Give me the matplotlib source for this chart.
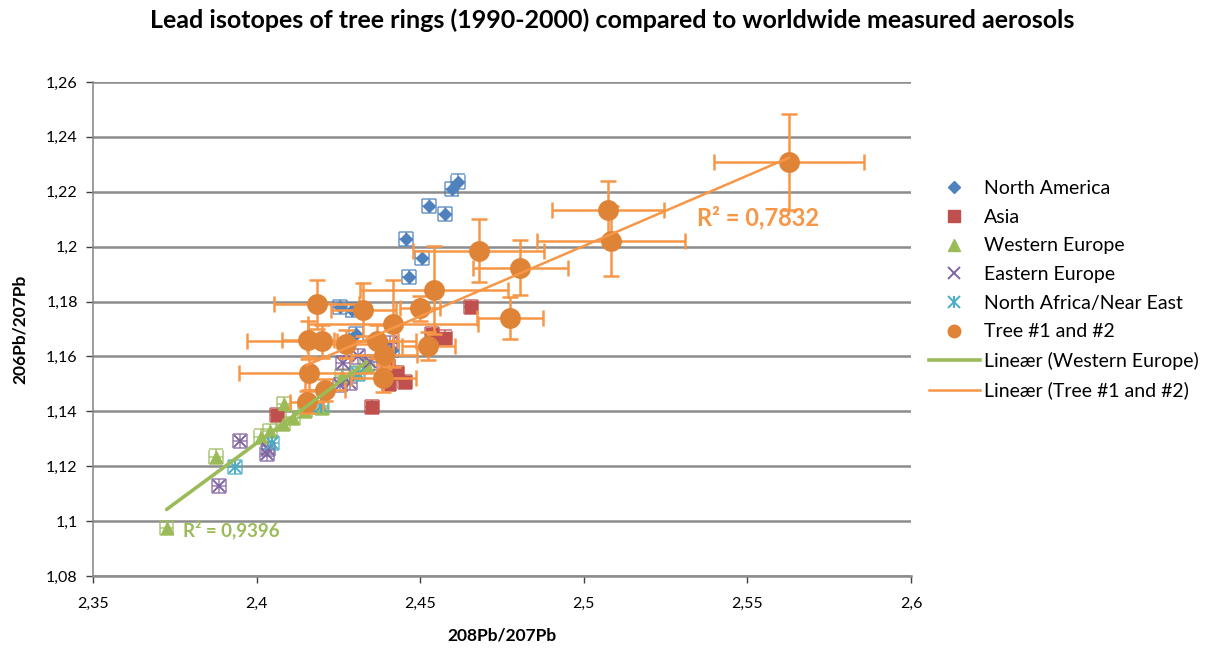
import numpy as np
import matplotlib
matplotlib.use("Agg")
import matplotlib.pyplot as plt
from matplotlib.lines import Line2D
from matplotlib.legend_handler import HandlerTuple
from matplotlib.ticker import FixedLocator, FuncFormatter

plt.rcParams['font.family'] = ['Lato', 'DejaVu Sans']

# ---- data -------------------------------------------------------------
na_x = [2.4616, 2.4596, 2.4527, 2.4576, 2.4456, 2.4505, 2.4466, 2.4255, 2.4293, 2.4303, 2.4414]
na_y = [1.2237, 1.2209, 1.2148, 1.2119, 1.2027, 1.1958, 1.1889, 1.1781, 1.1768, 1.1682, 1.1624]

asia_x = [2.4655, 2.4535, 2.4576, 2.4428, 2.4454, 2.4405, 2.4352, 2.4062, 2.4402]
asia_y = [1.1779, 1.1680, 1.1669, 1.1539, 1.1508, 1.1500, 1.1417, 1.1387, 1.1565]

we_x = [2.3875, 2.3725, 2.4084, 2.4081, 2.4041, 2.4013, 2.4111, 2.4148, 2.4200, 2.4261, 2.4307, 2.4337]
we_y = [1.1235, 1.0974, 1.1427, 1.1354, 1.1328, 1.1308, 1.1376, 1.1401, 1.1412, 1.1529, 1.1540, 1.1565]

ee_x = [2.3886, 2.3949, 2.4036, 2.4031, 2.4265, 2.4311, 2.4255, 2.4285, 2.4347, 2.4408]
ee_y = [1.1127, 1.1292, 1.1263, 1.1246, 1.1576, 1.1600, 1.1496, 1.1502, 1.1578, 1.1648]

naf_x = [2.3934, 2.4046, 2.4197, 2.4311]
naf_y = [1.1198, 1.1284, 1.1421, 1.1536]

tree_x = [2.5627, 2.5074, 2.5083, 2.4679, 2.4806, 2.4774, 2.4542, 2.4499, 2.4418, 2.4326, 2.4184,
          2.4158, 2.4201, 2.4273, 2.4367, 2.4389, 2.4525, 2.4160, 2.4387, 2.4209, 2.4153]
tree_y = [1.2309, 1.2134, 1.2021, 1.1986, 1.1924, 1.1739, 1.1842, 1.1775, 1.1720, 1.1771, 1.1790,
          1.1660, 1.1655, 1.1645, 1.1656, 1.1605, 1.1638, 1.1539, 1.1520, 1.1478, 1.1435]
tree_xerr = [0.023, 0.017, 0.0225, 0.020, 0.0145, 0.010, 0.0225, 0.006, 0.026, 0.010, 0.013,
             0.008, 0.023, 0.012, 0.012, 0.010, 0.008, 0.0215, 0.010, 0.006, 0.005]
tree_yerr = [0.0175, 0.0106, 0.0128, 0.0113, 0.010, 0.0077, 0.016, 0.0045, 0.016, 0.0095, 0.009,
             0.007, 0.006, 0.005, 0.006, 0.005, 0.005, 0.006, 0.005, 0.004, 0.004]

x_ticks = [2.35, 2.4, 2.45, 2.5, 2.55, 2.6]
y_ticks = [1.08, 1.10, 1.12, 1.14, 1.16, 1.18, 1.20, 1.22, 1.24, 1.26]

r2_we_text = "R² = 0,9396"
r2_tree_text = "R² = 0,7832"

# ---- style ------------------------------------------------------------
C_NA = '#4F81BD'
C_ASIA = '#C0504D'
C_WE = '#9BBB59'
C_EE = '#8064A2'
C_NAF = '#4BACC6'
C_TREE = '#DF8336'
C_TREE_ERR = '#F79646'
GRID = '#8C8C8C'

fig = plt.figure(figsize=(12.08, 6.48), dpi=100)
ax = fig.add_axes([93/1208, 1-576/648, (911-93)/1208, (576-82)/648])

# small fixed error bars for the aerosol samples
aer_xerr = 0.0021
aer_yerr = 0.0026
aer_cap = 5


def aerosol(xs, ys, color, marker, ms, mew=1.0, z=3):
    ax.errorbar(xs, ys, xerr=aer_xerr, yerr=aer_yerr, fmt='none', ecolor=color,
                elinewidth=1.2, capsize=aer_cap, capthick=1.2, alpha=0.75, zorder=z)
    ax.plot(xs, ys, linestyle='none', marker=marker, color=color, markersize=ms,
            markeredgewidth=mew, zorder=z + 0.1)


aerosol(na_x, na_y, C_NA, 'D', 6.5)
aerosol(asia_x, asia_y, C_ASIA, 's', 8.5)
aerosol(we_x, we_y, C_WE, '^', 9)
aerosol(ee_x, ee_y, C_EE, 'x', 9, mew=1.4)
aerosol(naf_x, naf_y, C_NAF, 'x', 9, mew=1.4)
ax.plot(naf_x, naf_y, linestyle='none', marker='|', color=C_NAF, markersize=10,
        markeredgewidth=1.4, zorder=3.2)

# tree rings with their uncertainties
ax.errorbar(tree_x, tree_y, xerr=tree_xerr, yerr=tree_yerr, fmt='none', ecolor=C_TREE_ERR,
            elinewidth=1.8, capsize=6, capthick=1.8, zorder=4)
ax.plot(tree_x, tree_y, linestyle='none', marker='o', color=C_TREE, markersize=15,
        markeredgewidth=0, zorder=4.1)

# linear trend lines
we_fit = np.polyfit(we_x, we_y, 1)
we_line_x = np.array([min(we_x), max(we_x)])
ax.plot(we_line_x, np.polyval(we_fit, we_line_x), color=C_WE, linewidth=2.6, zorder=5,
        solid_capstyle='round')

tree_fit = np.polyfit(tree_x, tree_y, 1)
tree_line_x = np.array([min(tree_x), max(tree_x)])
ax.plot(tree_line_x, np.polyval(tree_fit, tree_line_x), color=C_TREE_ERR, linewidth=1.8,
        zorder=5)

ax.text(2.3775, 1.0968, r2_we_text, color=C_WE, fontsize=13.5, fontweight='bold',
        va='center', ha='left', zorder=6)
ax.text(2.5346, 1.2105, r2_tree_text, color=C_TREE_ERR, fontsize=17, fontweight='bold',
        va='center', ha='left', zorder=6)

# ---- axes -------------------------------------------------------------
ax.set_xlim(2.35, 2.6)
ax.set_ylim(1.08, 1.26)
ax.xaxis.set_major_locator(FixedLocator(x_ticks))
ax.yaxis.set_major_locator(FixedLocator(y_ticks))


def comma_fmt(v, _pos):
    s = f"{v:.2f}".rstrip('0').rstrip('.')
    return s.replace('.', ',')


ax.xaxis.set_major_formatter(FuncFormatter(comma_fmt))
ax.yaxis.set_major_formatter(FuncFormatter(comma_fmt))
ax.tick_params(axis='both', labelsize=11.5, colors='#404040', length=5, width=1.0,
               direction='out', labelcolor='black')
ax.tick_params(axis='x', pad=10)
ax.tick_params(axis='y', pad=6)

for side in ['top', 'right']:
    ax.spines[side].set_visible(False)
ax.spines['left'].set_color(GRID)
ax.spines['bottom'].set_color(GRID)
ax.spines['left'].set_linewidth(1.2)
ax.spines['bottom'].set_linewidth(1.8)
ax.grid(axis='y', color=GRID, linewidth=1.8, zorder=0)
ax.set_axisbelow(True)

ax.set_xlabel('208Pb/207Pb', fontsize=12.5, fontweight='bold', labelpad=12)
ax.set_ylabel('206Pb/207Pb', fontsize=12.5, fontweight='bold', labelpad=13)
fig.suptitle('Lead isotopes of tree rings (1990-2000) compared to worldwide measured aerosols',
             x=612 / 1208, y=1 - 20 / 648, va='center', fontsize=18,
             fontweight='bold')

# ---- legend -----------------------------------------------------------
h_na = Line2D([], [], linestyle='none', marker='D', color=C_NA, markersize=6.5)
h_asia = Line2D([], [], linestyle='none', marker='s', color=C_ASIA, markersize=8)
h_we = Line2D([], [], linestyle='none', marker='^', color=C_WE, markersize=9)
h_ee = Line2D([], [], linestyle='none', marker='x', color=C_EE, markersize=8, markeredgewidth=1.4)
h_naf = (Line2D([], [], linestyle='none', marker='x', color=C_NAF, markersize=8, markeredgewidth=1.4),
         Line2D([], [], linestyle='none', marker='|', color=C_NAF, markersize=9, markeredgewidth=1.4))
h_tree = Line2D([], [], linestyle='none', marker='o', color=C_TREE, markersize=9)
h_wel = Line2D([], [], color=C_WE, linewidth=2.6)
h_trl = Line2D([], [], color=C_TREE_ERR, linewidth=1.8)

leg = fig.legend([h_na, h_asia, h_we, h_ee, h_naf, h_tree, h_wel, h_trl],
                 ['North America', 'Asia', 'Western Europe', 'Eastern Europe',
                  'North Africa/Near East', 'Tree #1 and #2', 'Lineær (Western Europe)',
                  'Lineær (Tree #1 and #2)'],
                 handler_map={tuple: HandlerTuple(ndivide=1, pad=0)},
                 loc='upper left', bbox_to_anchor=(929 / 1208, 1 - 180 / 648),
                 frameon=False, fontsize=14, labelspacing=0.6, handlelength=2.6,
                 handletextpad=0.25, borderpad=0, borderaxespad=0)

fig.savefig('out.png', dpi=100)
